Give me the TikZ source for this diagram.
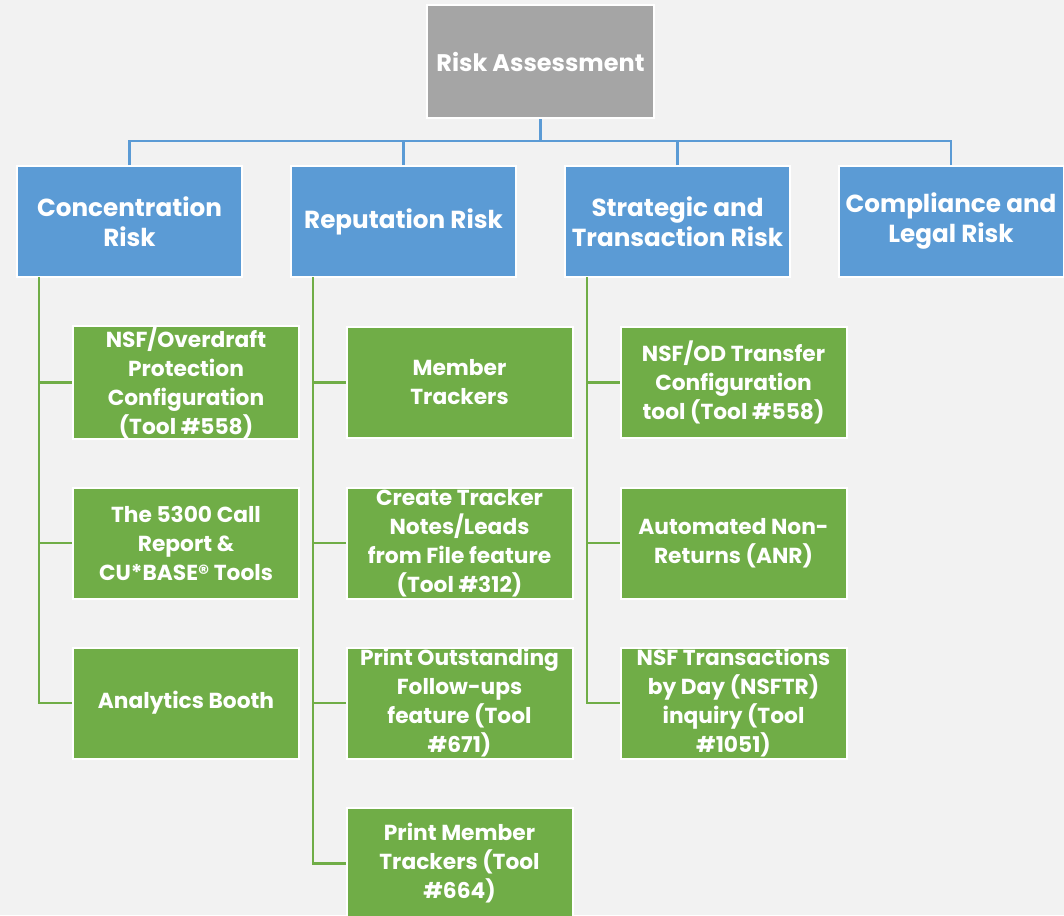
\documentclass[tikz,border=0pt]{standalone}
\usepackage{fontspec}
\setmainfont{Poppins}
\usetikzlibrary{positioning}

\definecolor{bgcol}{HTML}{F2F2F2}
\definecolor{rootcol}{HTML}{A5A5A5}
\definecolor{catcol}{HTML}{5B9BD5}
\definecolor{toolcol}{HTML}{70AD47}

\begin{document}
\begin{tikzpicture}[
    x=0.75pt, y=-0.75pt,
    box/.style={
        draw=white, line width=1.5pt, align=center, text=white,
        inner sep=0pt
    },
    rootbox/.style={
        box, fill=rootcol,
        minimum width=170pt, minimum height=84.75pt,
        font=\fontsize{18}{22.5}\selectfont\bfseries
    },
    catbox/.style={
        box, fill=catcol,
        minimum width=168.75pt, minimum height=83.25pt,
        font=\fontsize{18.5}{22.5}\selectfont\bfseries
    },
    toolbox/.style={
        box, fill=toolcol,
        minimum width=169.5pt, minimum height=83.25pt,
        font=\fontsize{16.3}{21.75}\selectfont\bfseries
    },
    catline/.style={draw=catcol, line width=2pt},
    toolline/.style={draw=toolcol, line width=1.6pt}
]
\useasboundingbox (0,0) rectangle (1064,915);
\fill[bgcol] (0,0) rectangle (1064,915);
\clip (0,0) rectangle (1064,915);

% top
\node[rootbox] (root) at (540.5,61.5) {Risk Assessment};

% risk categories
\node[catbox] (conc)  at (129.5,221.5) {Concentration\\Risk};
\node[catbox] (rep)   at (403.5,221.5) {Reputation Risk};
\node[catbox] (strat) at (677.5,221.5) {Strategic and\\Transaction Risk};
\node[catbox] (comp)  at (951,221.5)   {Compliance and\\Legal Risk};

\coordinate (bus) at (540.5,141);
\draw[catline] (root.south) -- (bus);
\foreach \c in {conc,rep,strat,comp}
    \draw[catline] (\c.north) |- (bus);

% tools
\node[toolbox] (nsfod)    at (186,382.5)   {NSF/Overdraft\\Protection\\Configuration\\(Tool \#558)};
\node[toolbox] (callrep)  at (186,543)     {The 5300 Call\\Report \&\\CU*BASE® Tools};
\node[toolbox] (booth)    at (186,703)     {Analytics Booth};

\node[toolbox] (trackers) at (459.5,382.5) {Member\\Trackers};
\node[toolbox] (notes)    at (459.5,543)   {Create Tracker\\Notes/Leads\\from File feature\\(Tool \#312)};
\node[toolbox] (followup) at (459.5,703)   {Print Outstanding\\Follow-ups\\feature (Tool\\\#671)};
\node[toolbox] (printtr)  at (459.5,863.5) {Print Member\\Trackers (Tool\\\#664)};

\node[toolbox] (odxfer)   at (733.5,382.5) {NSF/OD Transfer\\Configuration\\tool (Tool \#558)};
\node[toolbox] (anr)      at (733.5,543)   {Automated Non-\\Returns (ANR)};
\node[toolbox] (nsftr)    at (733.5,703)   {NSF Transactions\\by Day (NSFTR)\\inquiry (Tool\\\#1051)};

\coordinate (concspine)  at (39,277);
\coordinate (repspine)   at (313,277);
\coordinate (stratspine) at (587,277);

\foreach \t in {nsfod,callrep,booth}
    \draw[toolline] (concspine) |- (\t.west);
\foreach \t in {trackers,notes,followup,printtr}
    \draw[toolline] (repspine) |- (\t.west);
\foreach \t in {odxfer,anr,nsftr}
    \draw[toolline] (stratspine) |- (\t.west);
\end{tikzpicture}
\end{document}
